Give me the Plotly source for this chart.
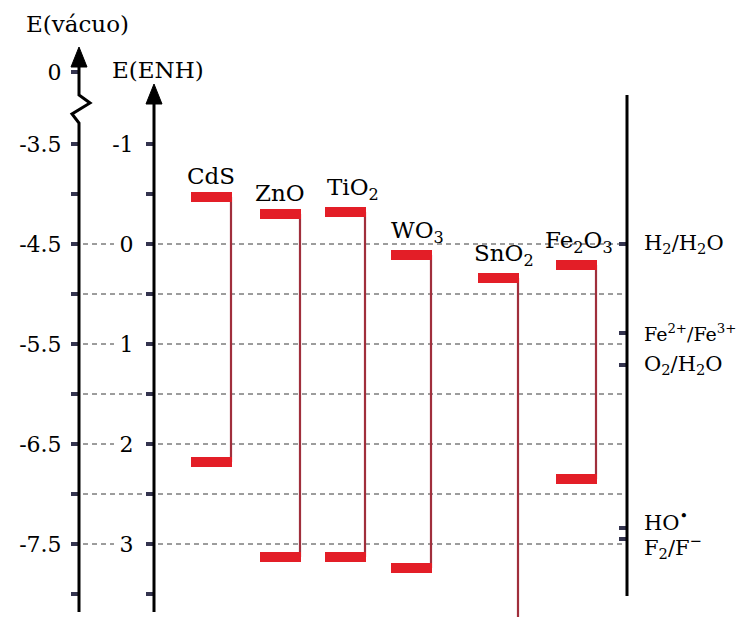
import plotly.graph_objects as go

# ---------------- data ----------------
materials = ["CdS", "ZnO", "TiO<sub>2</sub>", "WO<sub>3</sub>", "SnO<sub>2</sub>", "Fe<sub>2</sub>O<sub>3</sub>"]
cb_enh = [-0.47, -0.30, -0.32, 0.11, 0.34, 0.21]      # conduction band edge, V vs ENH
vb_enh = [2.18, 3.13, 3.13, 3.24, 4.00, 2.35]         # valence band edge, V vs ENH

enh_tick_vals = [-1, -0.5, 0, 0.5, 1, 1.5, 2, 2.5, 3, 3.5]
enh_tick_text = ["-1", "", "0", "", "1", "", "2", "", "3", ""]
vac_tick_vals = [-3.5, -4, -4.5, -5, -5.5, -6, -6.5, -7, -7.5, -8]
vac_tick_text = ["-3.5", "", "-4.5", "", "-5.5", "", "-6.5", "", "-7.5", ""]
vac_zero_label = "0"
enh_to_vac_offset = -4.5

redox_labels = ["H<sub>2</sub>/H<sub>2</sub>O", "Fe<sup>2+</sup>/Fe<sup>3+</sup>",
                "O<sub>2</sub>/H<sub>2</sub>O", "HO<sup>•</sup>", "F<sub>2</sub>/F<sup>−</sup>"]
redox_enh = [0.0, 0.89, 1.21, 2.84, 2.95]
grid_levels = [0, 0.5, 1, 1.5, 2, 2.5, 3]

# ---------------- layout / style ----------------
W, H = 744, 617
Y0_PX, PX_PER_UNIT = 244, 100.0
enh_range = [(H - Y0_PX) / PX_PER_UNIT, -Y0_PX / PX_PER_UNIT]
vac_range = [enh_to_vac_offset - enh_range[0], enh_to_vac_offset - enh_range[1]]
VAC_ZERO_AT_ENH = -1.72          # where the broken vacuum axis shows its "0"
VAC_X, ENH_X, RIGHT_X = 79, 154, 627
bar_left = [191, 260, 325, 391, 478, 556]
BAR_W = 41
label_dx = [-6, -7, 0, -2, -6, -13]
redox_yshift = [0, 0, 0, 7, -8]
redox_size = [21, 19, 21, 21, 21]
FONT = "DejaVu Serif"
RED = "#e31e27"
LINK = "#a02f3c"
TICK_C = "#34344f"


def py(px):
    return 1 - px / H


fig = go.Figure()

# dashed guide lines
gx, gy = [], []
for lv in grid_levels:
    labeled = lv in enh_tick_vals and enh_tick_text[enh_tick_vals.index(lv)] != ""
    gx += [VAC_X + 4, ENH_X - (40 if labeled else 4), None, ENH_X + 4, RIGHT_X - 3, None]
    gy += [lv, lv, None, lv, lv, None]
fig.add_trace(go.Scatter(x=gx, y=gy, mode="lines", hoverinfo="skip", showlegend=False,
                         line=dict(color="#3a3a3a", width=1, dash="5px,4px")))

# band edges
for i, m in enumerate(materials):
    x0 = bar_left[i]
    x1 = x0 + BAR_W
    fig.add_trace(go.Scatter(x=[x1 - 1, x1 - 1], y=[cb_enh[i], vb_enh[i]], mode="lines",
                             line=dict(color=LINK, width=2.2), showlegend=False, hoverinfo="skip"))
    for e in (cb_enh[i], vb_enh[i]):
        fig.add_trace(go.Scatter(x=[x0, x1], y=[e, e], mode="lines",
                                 line=dict(color=RED, width=10), showlegend=False, hoverinfo="skip"))
    fig.add_annotation(x=x0 + label_dx[i], y=cb_enh[i], xref="x", yref="y", text=m,
                       xanchor="left", yanchor="bottom", yshift=6, showarrow=False,
                       font=dict(family=FONT, size=23, color="black"))

# invisible anchors for overlay axes
fig.add_trace(go.Scatter(x=[VAC_X], y=[vac_range[0]], yaxis="y2", mode="markers",
                         marker=dict(opacity=0), showlegend=False, hoverinfo="skip"))
fig.add_trace(go.Scatter(x=[RIGHT_X], y=[enh_range[0]], yaxis="y3", mode="markers",
                         marker=dict(opacity=0), showlegend=False, hoverinfo="skip"))

# redox labels
for lab, e, ys, fs in zip(redox_labels, redox_enh, redox_yshift, redox_size):
    fig.add_annotation(x=RIGHT_X + 15, y=e, xref="x", yref="y", text=lab, xanchor="left",
                       yanchor="middle", yshift=ys, showarrow=False,
                       font=dict(family=FONT, size=fs, color="black"))

# axis titles
fig.add_annotation(x=24, y=py(24), xref="x", yref="paper", text="E(vácuo)", xanchor="left",
                   yanchor="middle", showarrow=False, font=dict(family=FONT, size=23, color="black"))
fig.add_annotation(x=110, y=py(70), xref="x", yref="paper", text="E(ENH)", xanchor="left",
                   yanchor="middle", showarrow=False, font=dict(family=FONT, size=23, color="black"))

# axis lines, break and arrowheads
zig = [(VAC_X, 612), (VAC_X, 123), (VAC_X - 7, 114), (VAC_X + 11, 103), (VAC_X, 95), (VAC_X, 62)]
path = "M " + " L ".join(f"{x},{py(y)}" for x, y in zig)
shapes = [
    dict(type="path", path=path, xref="x", yref="paper", line=dict(color="black", width=3)),
    dict(type="line", x0=ENH_X, x1=ENH_X, y0=py(612), y1=py(100), xref="x", yref="paper",
         line=dict(color="black", width=3)),
    dict(type="line", x0=RIGHT_X, x1=RIGHT_X, y0=py(596), y1=py(95), xref="x", yref="paper",
         line=dict(color="black", width=3)),
]
for ax, tip in ((VAC_X, 47), (ENH_X, 84)):
    p = f"M {ax},{py(tip)} L {ax - 8},{py(tip + 20)} L {ax + 8},{py(tip + 20)} Z"
    shapes.append(dict(type="path", path=p, xref="x", yref="paper", fillcolor="black",
                       line=dict(color="black", width=1)))

tickfont = dict(family=FONT, size=22, color="black")
fig.update_layout(
    width=W, height=H, margin=dict(l=0, r=0, t=0, b=0),
    paper_bgcolor="white", plot_bgcolor="rgba(0,0,0,0)", showlegend=False,
    shapes=shapes,
    xaxis=dict(range=[0, W], visible=False, domain=[0, 1]),
    yaxis=dict(range=enh_range, anchor="free", position=ENH_X / W, showline=False,
               showgrid=False, zeroline=False, tickmode="array", tickvals=enh_tick_vals,
               ticktext=enh_tick_text, ticks="outside", ticklen=8, tickwidth=4,
               tickcolor=TICK_C, tickfont=tickfont, ticklabelstandoff=8),
    yaxis2=dict(range=vac_range, overlaying="y", anchor="free", position=VAC_X / W,
                showline=False, showgrid=False, zeroline=False, tickmode="array",
                tickvals=[enh_to_vac_offset - VAC_ZERO_AT_ENH] + vac_tick_vals,
                ticktext=[vac_zero_label] + vac_tick_text, ticks="outside", ticklen=8,
                tickwidth=4, tickcolor=TICK_C, tickfont=tickfont, ticklabelstandoff=5),
    yaxis3=dict(range=enh_range, overlaying="y", anchor="free", position=RIGHT_X / W,
                side="right", showline=False, showgrid=False, zeroline=False,
                tickmode="array", tickvals=redox_enh, ticks="inside", ticklen=8,
                tickwidth=4, tickcolor=TICK_C, showticklabels=False),
)

fig.write_html("out.html", config={"displayModeBar": False},
               post_script="document.body.style.margin='0';document.body.style.overflow='hidden';")
